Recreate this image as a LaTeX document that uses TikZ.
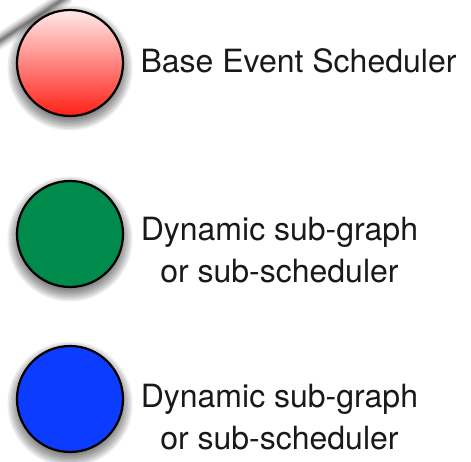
\documentclass[tikz,border=0pt]{standalone}
\usepackage{fontspec}
\setmainfont{TeX Gyre Heros}
\usetikzlibrary{calc}

\definecolor{redtop}{RGB}{255,234,234}
\definecolor{redmid}{RGB}{255,160,160}
\definecolor{redbot}{RGB}{255,32,22}
\definecolor{subgreen}{RGB}{0,138,76}
\definecolor{subblue}{RGB}{12,60,255}

\tikzset{
  ball/.style={circle, draw=black, line width=2.2pt, minimum size=106pt,
    inner sep=0pt},
  legendtext/.style={font=\fontsize{32}{38}\selectfont, inner sep=0pt,
    text=black!90}
}

% soft drop shadow under a marker: stacked translucent discs
\newcommand\softdrop[1]{%
  \foreach \r in {49,50.5,...,62.5}
    \fill[black, opacity=0.065] ($(#1)+(0,5)$) circle[radius=\r];}

\begin{document}
\begin{tikzpicture}[x=1pt, y=-1pt]
  \useasboundingbox (0,0) rectangle (471,462);
  \fill[white] (0,0) rectangle (471,462);

  % soft edge of a tilted sheet in the corner
  \coordinate (edgeA) at (-8,46);
  \coordinate (edgeB) at (68,-4);
  \foreach \w/\o in {16/0.06, 13/0.08, 10/0.10, 7/0.12, 4.5/0.14, 2/0.16}
    \draw[line width=\w pt, black, opacity=\o] (edgeA) -- (edgeB);

  % marker positions
  \coordinate (baseC) at (70,63);
  \coordinate (subgC) at (70,234);
  \coordinate (subbC) at (70,399);

  \softdrop{baseC}
  \softdrop{subgC}
  \softdrop{subbC}

  % legend markers
  \node[ball, top color=redtop, middle color=redmid, bottom color=redbot]
    (base) at (baseC) {};
  \node[ball, fill=subgreen] (subg) at (subgC) {};
  \node[ball, fill=subblue] (subb) at (subbC) {};

  % legend labels
  \node[legendtext, anchor=base west] (baseLbl) at (140.3,72.7)
    {Base Event Scheduler};

  \node[legendtext, anchor=base west] (subgLblA) at (140.6,240.7)
    {Dynamic sub-graph};
  \node[legendtext, anchor=base] (subgLblB) at ($(subgLblA.base)+(0,42)$)
    {or sub-scheduler};

  \node[legendtext, anchor=base west] (subbLblA) at (140.6,407)
    {Dynamic sub-graph};
  \node[legendtext, anchor=base] (subbLblB) at ($(subbLblA.base)+(0,42)$)
    {or sub-scheduler};
\end{tikzpicture}
\end{document}
